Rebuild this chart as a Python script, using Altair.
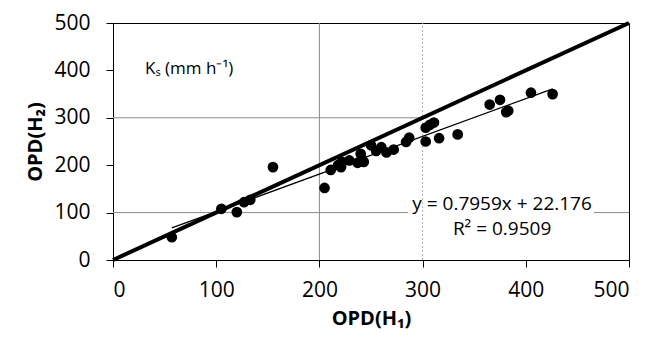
import altair as alt
import pandas as pd

# Observed OPD values
opd_h1 = [57, 105, 120, 127, 133, 155, 205, 211, 218, 221, 222, 229, 237, 240, 241, 243,
          250, 255, 260, 265, 272, 284, 287, 303, 303, 307, 311, 316, 334, 365, 375, 381,
          383, 405, 426]
opd_h2 = [48, 108, 101, 122, 127, 196, 152, 190, 200, 196, 207, 210, 205, 224, 213, 207,
          242, 230, 238, 227, 233, 249, 258, 250, 279, 285, 290, 257, 265, 328, 338, 312,
          315, 353, 350]

slope = 0.7959
intercept = 22.176
eq_text = "y = 0.7959x + 22.176"
r2_text = "R² = 0.9509"
ks_text = "Kₛ (mm h⁻¹)"
axis_ticks = [0, 100, 200, 300, 400, 500]

FONT = "Open Sans"

pts = pd.DataFrame({"x": opd_h1, "y": opd_h2})
xmin, xmax = min(opd_h1), max(opd_h1)
reg = pd.DataFrame({"x": [xmin, xmax], "y": [slope * xmin + intercept, slope * xmax + intercept]})
one = pd.DataFrame({"x": [0, 500], "y": [0, 500]})

grid_solid = pd.DataFrame({
    "x": [0, 466, 0, 200],
    "x2": [286, 500, 300, 200],
    "y": [100, 100, 300, 0],
    "y2": [100, 100, 300, 500],
})
grid_dot = pd.DataFrame({"x": [300], "x2": [300], "y": [0], "y2": [500]})

xs = alt.Scale(domain=[0, 500], nice=False)
ys = alt.Scale(domain=[0, 500], nice=False)

xax = alt.Axis(values=axis_ticks, title="OPD(H₁)", grid=False)
yax = alt.Axis(values=axis_ticks, title="OPD(H₂)", grid=False)

g1 = alt.Chart(grid_solid).mark_rule(color="#8a8a8a", strokeWidth=1).encode(
    x=alt.X("x:Q", scale=xs, axis=xax), x2="x2", y=alt.Y("y:Q", scale=ys, axis=yax), y2="y2")
g2 = alt.Chart(grid_dot).mark_rule(color="#b0b0b0", strokeWidth=1, strokeDash=[2, 2]).encode(
    x=alt.X("x:Q", scale=xs), x2="x2", y=alt.Y("y:Q", scale=ys), y2="y2")

l1 = alt.Chart(one).mark_line(color="black", strokeWidth=4).encode(
    x=alt.X("x:Q", scale=xs), y=alt.Y("y:Q", scale=ys))
lr = alt.Chart(reg).mark_line(color="black", strokeWidth=1.3).encode(
    x=alt.X("x:Q", scale=xs), y=alt.Y("y:Q", scale=ys))
pt = alt.Chart(pts).mark_circle(color="black", size=115, opacity=1).encode(
    x=alt.X("x:Q", scale=xs), y=alt.Y("y:Q", scale=ys))

labels = pd.DataFrame({
    "x": [377, 377], "y": [118, 65], "t": [eq_text, r2_text]})
tl = alt.Chart(labels).mark_text(font=FONT, fontSize=19, color="black", baseline="middle", align="center").encode(
    x=alt.X("x:Q", scale=xs), y=alt.Y("y:Q", scale=ys), text="t:N")
ks = alt.Chart(pd.DataFrame({"x": [31], "y": [403], "t": [ks_text]})).mark_text(
    font=FONT, fontSize=17, color="black", baseline="middle", align="left").encode(
    x=alt.X("x:Q", scale=xs), y=alt.Y("y:Q", scale=ys), text="t:N")

chart = alt.layer(g1, g2, l1, lr, pt, tl, ks).properties(
    width=516, height=237,
    autosize=alt.AutoSizeParams(type="none"),
    padding={"left": 105, "top": 15, "right": 20, "bottom": 72},
).configure_view(stroke="black", strokeWidth=1).configure_axis(
    domainColor="black", tickColor="black", tickSize=7, labelFont=FONT, labelFontSize=21,
    labelColor="black", titleFont=FONT, titleFontSize=20, titleFontWeight="bold", titleColor="black",
).configure_axisX(labelPadding=12, titlePadding=8).configure_axisY(labelPadding=16, titlePadding=8)

chart.save("out.html", embed_options={"renderer": "svg", "actions": False})
